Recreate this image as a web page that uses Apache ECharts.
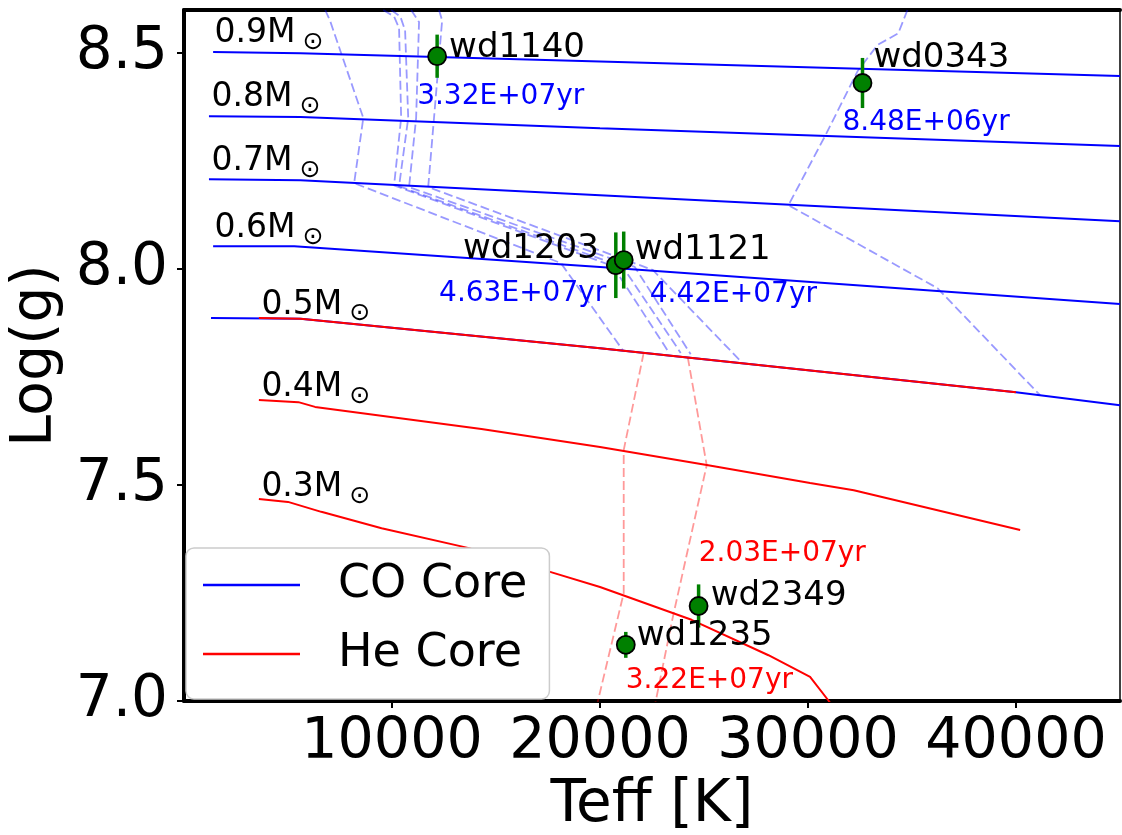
<!DOCTYPE html>
<html>
<head>
<meta charset="utf-8">
<script src="https://cdn.jsdelivr.net/npm/echarts@6/dist/echarts.min.js"></script>
<style>
  html, body { margin: 0; padding: 0; background: #fff; }
  #chart { width: 1122px; height: 835px; }
</style>
</head>
<body>
<div id="chart"></div>
<script>
  // cooling tracks, [Teff, logg]
  const co09 = [[1400, 8.503], [5600, 8.500], [20000, 8.481], [45000, 8.447]];
  const co08 = [[1200, 8.354], [5600, 8.352], [20000, 8.326], [45000, 8.285]];
  const co07 = [[1200, 8.208], [5600, 8.206], [20000, 8.171], [45000, 8.111]];
  const co06 = [[1400, 8.053], [5300, 8.053], [20000, 8.005], [45000, 7.919]];
  const co05 = [[1300, 7.887], [5600, 7.885], [20000, 7.817], [40000, 7.715], [45000, 7.685]];
  const he05 = [[3600, 7.887], [5600, 7.885], [20000, 7.817], [40000, 7.715]];
  const he04 = [[3600, 7.697], [5500, 7.692], [6300, 7.681], [14300, 7.630], [20000, 7.588],
                [25200, 7.546], [30100, 7.505], [32200, 7.488], [40200, 7.396]];
  const he03 = [[3600, 7.468], [5000, 7.461], [6600, 7.438], [9500, 7.400], [13700, 7.354],
                [17600, 7.299], [20000, 7.264], [24400, 7.188], [28100, 7.106], [30100, 7.056],
                [31000, 7.0], [32000, 6.93]];

  // isochrones (dashed)
  const coIso = [
    [[6790, 8.6], [7030, 8.574], [8620, 8.350], [8180, 8.199], [18120, 8.014], [21100, 7.812]],
    [[9580, 8.6], [10100, 8.585], [10340, 8.558], [10440, 8.350], [10100, 8.194], [20620, 8.007], [23300, 7.808]],
    [[9960, 8.6], [10400, 8.585], [10630, 8.553], [10780, 8.350], [10340, 8.192], [21100, 8.005], [23880, 7.806]],
    [[10920, 8.6], [11300, 8.572], [11160, 8.350], [10820, 8.190], [21670, 8.005], [24360, 7.803]],
    [[12260, 8.6], [12410, 8.576], [12020, 8.350], [11740, 8.190], [22540, 7.998], [26760, 7.787]],
    [[34780, 8.6], [34340, 8.546], [33340, 8.519], [32380, 8.458], [30840, 8.310], [29060, 8.148],
     [36220, 7.956], [41160, 7.708]]
  ];
  const heIso = [
    [[22100, 7.806], [21140, 7.581], [21140, 7.250], [19900, 7.0], [19750, 6.968]],
    [[24220, 7.796], [25130, 7.546], [23500, 7.194], [22680, 7.0], [22540, 6.968]]
  ];

  // white dwarfs: name, Teff, logg, logg error
  const stars = [
    ['wd1140', 12170, 8.493, 0.050],
    ['wd0343', 32620, 8.431, 0.058],
    ['wd1203', 20760, 8.009, 0.076],
    ['wd1121', 21140, 8.021, 0.066],
    ['wd2349', 24740, 7.220, 0.050],
    ['wd1235', 21240, 7.130, 0.030]
  ];

  // text annotations: text, Teff, logg
  const nameLabels = [
    ['wd1140', 12744, 8.512], ['wd0343', 33144, 8.489], ['wd1121', 21672, 8.043],
    ['wd2349', 25320, 7.242], ['wd1235', 21768, 7.151]
  ];
  const nameLabelsRight = [['wd1203', 19944, 8.047]];
  const coAges = [
    ['3.32E+07yr', 11208, 8.399], ['8.48E+06yr', 31656, 8.339],
    ['4.63E+07yr', 12264, 7.943], ['4.42E+07yr', 22392, 7.940]
  ];
  const heAges = [['2.03E+07yr', 24744, 7.341], ['3.22E+07yr', 21240, 7.047]];
  const massLabels = [
    ['0.9', 1464, 8.546], ['0.8', 1320, 8.398], ['0.7', 1320, 8.250], ['0.6', 1464, 8.095],
    ['0.5', 3720, 7.917], ['0.4', 3720, 7.727], ['0.3', 3720, 7.495]
  ];

  const xTicks = [10000, 20000, 30000, 40000];
  const yTicks = [7.0, 7.5, 8.0, 8.5];

  const FONT = 'DejaVu Sans';
  const mychart = echarts.init(document.getElementById('chart'));

  function track(name, data, color) {
    return {
      name: name, type: 'line', data: data, symbol: 'none', clip: true,
      lineStyle: {color: color, width: 2}, itemStyle: {color: color}, z: 3
    };
  }
  function iso(data, color) {
    return {
      name: 'iso', type: 'line', data: data, symbol: 'none', clip: true, silent: true,
      lineStyle: {color: color, width: 1.8, type: [9, 4]}, z: 2
    };
  }
  function textSeries(list, color, size, align, rich) {
    return {
      name: 'txt', type: 'scatter', symbolSize: 0, silent: true, z: 6,
      itemStyle: {opacity: 1},
      data: list.map(d => ({value: [d[1], d[2]], txt: d[0]})),
      label: {
        show: true, position: [0, 0], align: align, verticalAlign: 'middle',
        color: color, fontSize: size, fontFamily: FONT, rich: rich,
        formatter: p => rich ? '{a|' + p.data.txt + 'M}{b|⊙}' : p.data.txt
      }
    };
  }

  const series = [
    track('CO Core', co09, '#0000ff'),
    track('CO Core', co08, '#0000ff'),
    track('CO Core', co07, '#0000ff'),
    track('CO Core', co06, '#0000ff'),
    track('CO Core', co05, '#0000ff'),
    track('He Core', he05, '#ff0000'),
    track('He Core', he04, '#ff0000'),
    track('He Core', he03, '#ff0000')
  ];
  coIso.forEach(d => series.push(iso(d, 'rgba(0,0,255,0.4)')));
  heIso.forEach(d => series.push(iso(d, 'rgba(255,0,0,0.4)')));

  // error bars
  series.push({
    name: 'err', type: 'custom', silent: true, z: 4,
    data: stars.map(s => [s[1], s[2], s[3]]),
    renderItem: function (params, api) {
      const x = api.value(0), y = api.value(1), e = api.value(2);
      const p1 = api.coord([x, y - e]);
      const p2 = api.coord([x, y + e]);
      return {
        type: 'line',
        shape: {x1: p1[0], y1: p1[1], x2: p2[0], y2: p2[1]},
        style: {stroke: '#008000', lineWidth: 3.5}
      };
    }
  });
  series.push({
    name: 'stars', type: 'scatter', silent: true, z: 5,
    data: stars.map(s => [s[1], s[2]]),
    symbolSize: 18,
    itemStyle: {color: '#008000', borderColor: '#000', borderWidth: 1.8, opacity: 1}
  });
  series.push(textSeries(nameLabels, '#000', 34, 'left'));
  series.push(textSeries(nameLabelsRight, '#000', 34, 'right'));
  series.push(textSeries(coAges, '#0000ff', 28, 'left'));
  series.push(textSeries(heAges, '#ff0000', 28, 'left'));
  series.push(textSeries(massLabels, '#000', 33, 'left', {
    a: {fontSize: 33, fontFamily: FONT, color: '#000'},
    b: {fontSize: 25, fontFamily: FONT, color: '#000', padding: [18, 0, 0, 7]}
  }));

  mychart.setOption({
    animation: false,
    backgroundColor: '#fff',
    grid: {left: 184, right: 2, top: 10, bottom: 134, outerBoundsMode: 'none', containLabel: false},
    legend: {
      data: ['CO Core', 'He Core'],
      orient: 'vertical', left: 186, top: 548,
      padding: [12, 22, 20, 17],
      icon: 'rect', itemWidth: 97, itemHeight: 2.5, itemGap: 19,
      backgroundColor: '#fff', borderColor: '#cccccc', borderWidth: 1.5, borderRadius: 8,
      textStyle: {fontSize: 46, fontFamily: FONT, color: '#000', lineHeight: 50, padding: [0, 0, 0, 33]}
    },
    xAxis: [{
      type: 'value', min: 0, max: 45000,
      name: 'Teff [K]', nameLocation: 'middle', nameGap: 75,
      nameTextStyle: {fontSize: 58, fontFamily: FONT, color: '#000'},
      axisLine: {onZero: false, lineStyle: {color: '#000', width: 4}},
      axisTick: {show: true, length: 7, customValues: xTicks, lineStyle: {color: '#000', width: 2}},
      axisLabel: {customValues: xTicks, fontSize: 57, fontFamily: FONT, color: '#000', margin: 14,
                  formatter: v => String(v)},
      splitLine: {show: false}
    }, {
      type: 'value', min: 0, max: 45000, position: 'top',
      axisLine: {onZero: false, lineStyle: {color: '#000', width: 4}},
      axisTick: {show: false}, axisLabel: {show: false}, splitLine: {show: false}
    }],
    yAxis: [{
      type: 'value', min: 7.0, max: 8.6,
      name: 'Log(g)', nameLocation: 'middle', nameGap: 112,
      nameTextStyle: {fontSize: 57, fontFamily: FONT, color: '#000'},
      axisLine: {onZero: false, lineStyle: {color: '#000', width: 4}},
      axisTick: {show: true, length: 7, customValues: yTicks, lineStyle: {color: '#000', width: 2}},
      axisLabel: {customValues: yTicks, fontSize: 58, fontFamily: FONT, color: '#000', margin: 16,
                  formatter: v => v.toFixed(1)},
      splitLine: {show: false}
    }, {
      type: 'value', min: 7.0, max: 8.6, position: 'right',
      axisLine: {onZero: false, lineStyle: {color: '#000', width: 1.5}},
      axisTick: {show: false}, axisLabel: {show: false}, splitLine: {show: false}
    }],
    series: series
  });
</script>
</body>
</html>
